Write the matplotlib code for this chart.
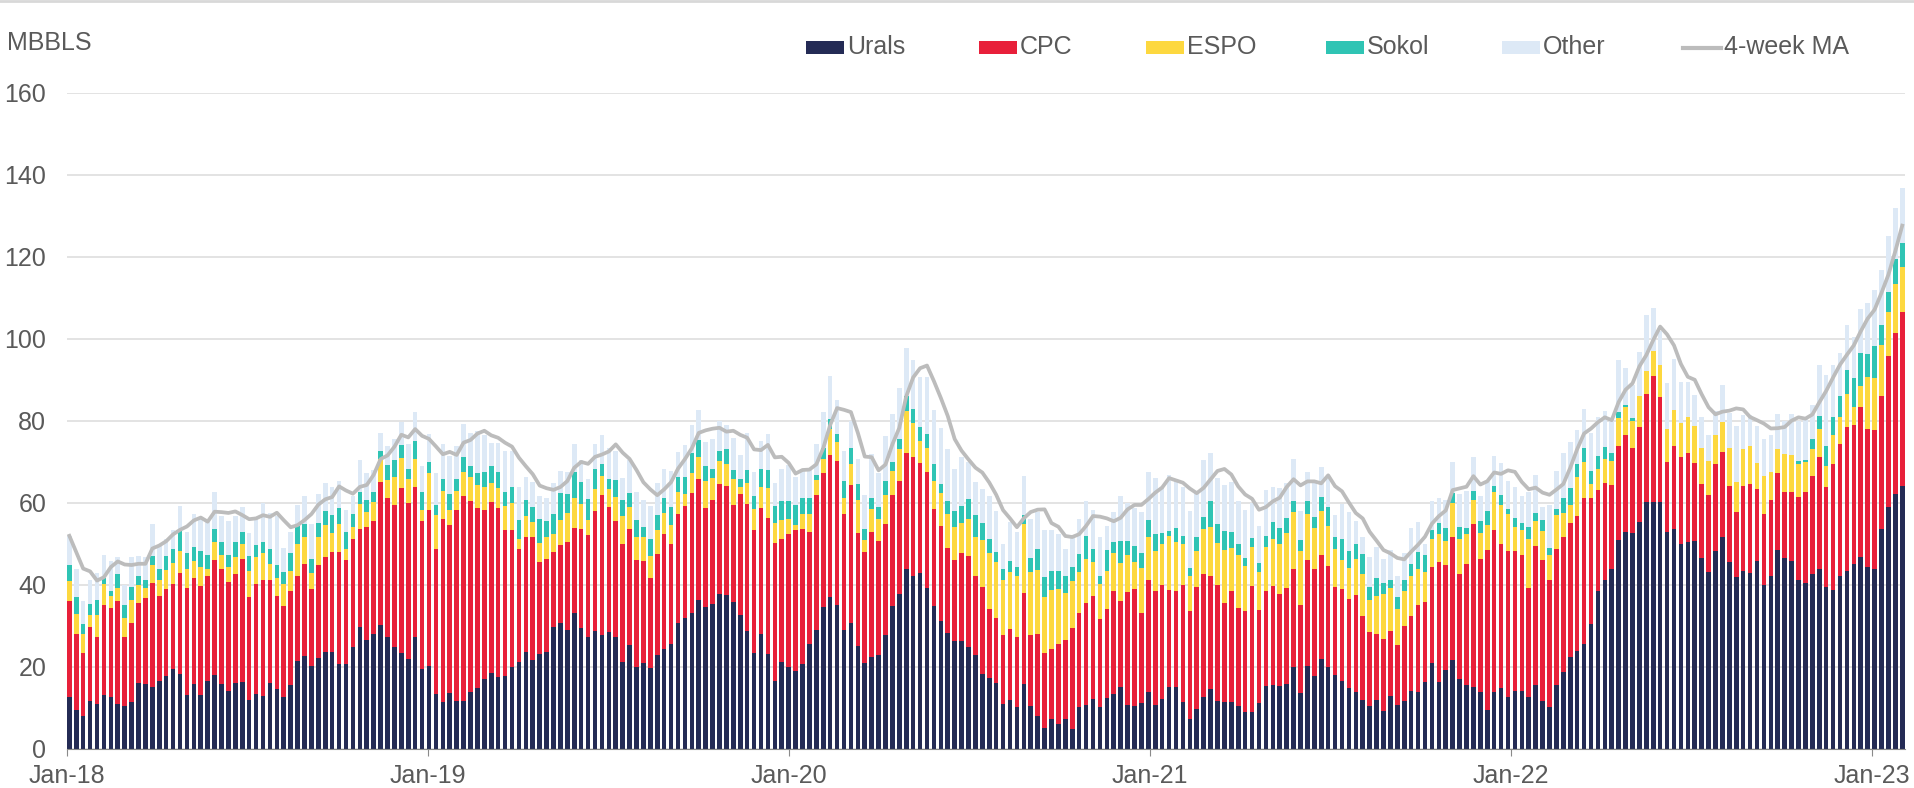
import numpy as np
import pandas as pd
import matplotlib
matplotlib.use("Agg")
import matplotlib.pyplot as plt
from matplotlib.patches import Rectangle
from matplotlib.lines import Line2D

# Weekly stacked levels (top of each colour band), Jan-18 .. Jan-23
urals = [12.8, 9.5, 8, 11.8, 11, 13.2, 12.8, 11, 10.4, 11.4, 16.1, 15.8, 15.1, 16.6, 17.8, 19.6, 18.4, 13.2, 15.8, 13.2, 16.7, 18, 15.8, 14.2, 16, 16.3, 12, 13.4, 13, 16.1, 14.7, 12.8, 15.6,
         21.5, 22.7, 20.2, 22.2, 23.7, 23.7, 20.8, 20.8, 24.9, 29.8, 26.5, 28.1, 30.3, 27.2, 24.9, 23.5, 21.9, 27.2, 19.6, 20.3, 13.4, 11.5, 13.7, 11.8, 11.6, 13.9, 15, 17, 18.6, 17.5, 17.7, 20, 21.1,
         23.7, 21.8, 23.2, 23.7, 29.8, 30.7, 29, 33.1, 29.5, 27.2, 28.9, 27.7, 28.6, 27.4, 21.3, 25.3, 19.9, 21, 19.7, 22.9, 24.3, 25.7, 30.7, 31.9, 33.1, 36.4, 34.7, 35.3, 37.8, 37.6, 35.8, 32.8, 28.9, 23.5, 28.1, 23.2,
         16.6, 21.2, 20.1, 19.1, 20.7, 25.5, 29.1, 34.7, 37, 35.2, 29.1, 30.7, 25.1, 20.9, 22.4, 22.9, 27.8, 35, 37.7, 44, 42.3, 42.9, 39.3, 35, 31.1, 28.3, 26.3, 26.3, 24.9, 23, 18.3, 17.3, 16.1, 10.9, 12,
         10.2, 15.9, 10.6, 8, 5.2, 7.3, 6.1, 7.4, 5, 10.2, 10.7, 12.1, 10.3, 12.5, 13.4, 15.1, 10.7, 10.6, 11.1, 14, 10.7, 12.1, 15.1, 15.1, 11.5, 7.3, 9.7, 12.8, 14.6, 11.8, 11.5, 11.5, 10.4,
         9, 9, 11.1, 15.3, 15.6, 15.3, 15.8, 20.1, 13.7, 20.3, 17.8, 21.9, 19.9, 18, 16.6, 14.9, 13.9, 12, 10.4, 12, 9.3, 13, 10.7, 11.8, 14.2, 14, 16.4, 21, 16.4, 19.2, 21.8, 17, 15.6, 15.1,
         13.9, 9.6, 13.8, 14.8, 12.8, 14.2, 14.2, 12.8, 15.5, 11.7, 10.2, 15.5, 18.9, 22.4, 24, 25.5, 30.4, 38.5, 41.3, 43.9, 51, 52.9, 52.7, 55.4, 60.2, 60.2, 60.3, 52.9, 53.7, 50, 50.5, 50.8, 46.7, 43.1, 48.3, 51.6, 45.7,
         41.9, 43.4, 42.9, 45.9, 39.9, 42.3, 48.6, 46.7, 45.9, 41.1, 40.4, 42.6, 43.9, 39.6, 38.8, 42.1, 43.4, 45.2, 46.9, 44.5, 43.9, 53.7, 59, 62.3, 64.1]

cpc_top = [36, 28, 23.5, 29.8, 27.2, 35.2, 34.5, 36.1, 27.2, 30.7, 35.7, 36.9, 40.4, 37.4, 39, 40.2, 43, 39.3, 41.6, 39.7, 42.1, 46.2, 44, 40.7, 42.6, 46.4, 37.1, 40.2, 41.3, 41.2, 37.4, 34.8, 38.6,
           42.3, 45.1, 39, 44.9, 46.8, 48, 48.1, 46.1, 51.1, 53.7, 54.2, 55.6, 65, 61.2, 59.6, 63.6, 60.1, 63.9, 55.6, 58.2, 48.7, 56, 54.6, 58.4, 61.7, 60.5, 58.9, 58.4, 60.3, 58.7, 53.5, 53.5, 48.7,
           51.6, 51.7, 45.6, 46.4, 48, 49.7, 50.6, 53.9, 53.6, 52.2, 58, 62, 59.1, 55.5, 50.1, 53.6, 46.1, 45.9, 41.8, 47.5, 52.5, 49.9, 57.2, 59.3, 62.4, 65.9, 58.9, 60.8, 64.6, 64.1, 59.6, 62.2, 59.8, 53.3, 58.9, 56.3,
           50.3, 51.3, 52.4, 53.4, 53.6, 52.9, 61.9, 67.2, 71.8, 70.2, 57.3, 64.3, 52.7, 48.1, 52.9, 50.8, 54.9, 61.9, 65.3, 72.3, 71.3, 69.7, 67.5, 58.5, 54.4, 49.1, 46.2, 47.8, 47, 42.1, 39.6, 34.2, 31.9, 27.8, 29.3,
           27.4, 38.1, 27.9, 28.1, 23.4, 24.3, 25.5, 26.5, 29.5, 33.1, 35.5, 37.4, 31.7, 34.1, 38.5, 36, 38.3, 39.1, 33.1, 41.2, 38.5, 40, 38.7, 38.6, 39.9, 33.6, 39.5, 42.8, 42.1, 39.9, 35.5, 38.6, 34.5,
           33.6, 39.7, 33.8, 38.6, 39.7, 37.7, 39.3, 44, 35.2, 46.1, 43.8, 47.3, 44.7, 39.5, 39.1, 36.7, 37.6, 32.4, 28.6, 28.1, 26.8, 28.7, 25.3, 30, 32.4, 35.2, 35.8, 44.3, 45.6, 44.9, 51.8, 42.6, 45.1, 54.9,
           46.4, 48.5, 53.4, 50.1, 48.3, 48.3, 47.4, 39.3, 49.5, 46.2, 41.3, 48.8, 51.8, 55.1, 56.9, 61.2, 61.2, 63.1, 64.9, 64.3, 73.8, 76.6, 73.3, 78.6, 86.6, 90.9, 85.8, 70, 73.9, 71.3, 72.1, 69.7, 64.6, 61.9, 69.4, 72.5, 64.1,
           57.7, 64.1, 64.6, 63.4, 57.3, 60.8, 67.2, 62.8, 62.6, 61.5, 62.6, 66.7, 71.3, 63.8, 69.4, 74.3, 78.6, 79.1, 83.5, 78.1, 77.8, 86.1, 95.8, 101.4, 106.7]

espo_top = [41, 33, 28, 32.6, 32.6, 40.2, 37.4, 39.3, 31.9, 36.4, 39.9, 39.3, 44.9, 41.3, 43.7, 45.4, 48.2, 44, 45.9, 44.5, 44, 50.6, 47.3, 44.5, 46.8, 50, 43.3, 46.8, 47.7, 45.1, 41.8, 40.2, 43.5,
            49.9, 51.6, 43, 51.7, 54.6, 52.7, 54.9, 48.7, 54.1, 59.8, 57.7, 60.2, 70.8, 65.5, 66.4, 71, 65.8, 70.8, 58.4, 67.4, 57, 62.9, 58.2, 62.9, 67.5, 66.4, 64.3, 63.8, 64.8, 63.7, 59.3, 60.1, 51.3,
            56.8, 55.3, 50.3, 51.6, 52.5, 55.8, 57.5, 61.3, 59.8, 55.8, 63.4, 66.7, 63.4, 61.5, 56.8, 59.1, 51.7, 51.6, 47.1, 53.5, 57.5, 54.6, 62.7, 62.2, 67.2, 71.2, 65.3, 66.2, 70.3, 69.5, 65.9, 63.8, 64.8, 58.5, 64, 63.7,
            55.1, 55.9, 56.1, 54.7, 57.3, 57.2, 65.6, 70.8, 78.1, 74.8, 61.3, 69.4, 60.8, 51, 58.5, 56.1, 61.9, 67.7, 73.1, 82.5, 79.4, 75.2, 73.5, 65.3, 62.4, 57.2, 54.1, 55.1, 56.1, 51.6, 51, 47.8, 45.7, 41.3, 43.2,
            42.1, 54.9, 43.2, 43.7, 37.1, 38.8, 39.1, 38, 41, 43.2, 46.4, 45.6, 40.2, 43.5, 47.8, 45.4, 47.3, 45.6, 44.2, 51.7, 48.2, 49.9, 52, 50.4, 50, 42.1, 48.2, 53.6, 54.1, 50.3, 48.5, 49, 47.3,
            44.7, 49.2, 43.2, 49.2, 51.3, 50.1, 52.7, 57.7, 48.2, 57.4, 53.9, 58, 54.4, 48.9, 46.1, 44.2, 46.4, 42.8, 36.4, 37.4, 37.8, 39.3, 34.2, 38.5, 42.3, 43.8, 43.2, 51.1, 52.5, 50.8, 60.1, 51.3, 52.5, 60.8,
            52.7, 54.7, 62.6, 59.5, 57.2, 54.2, 53.4, 51.3, 55.6, 53.2, 47.2, 57, 57.5, 59.5, 66.3, 70, 64.6, 68.2, 70.8, 70.2, 80.7, 83.3, 80, 86.1, 92.2, 97, 93.6, 78.1, 82.8, 79.4, 81, 78.8, 73.3, 70.2, 76.7, 79.7, 73.5,
            65, 73.1, 73.8, 69.7, 66.7, 67.5, 73.1, 71.9, 71.8, 69.4, 70, 73.1, 78, 69, 76.6, 80.9, 86.6, 83.3, 88.6, 90.8, 90.6, 98.6, 106.5, 113.5, 117.5]

sokol_top = [45, 37, 30.5, 35.3, 36.4, 41.6, 38.6, 42.8, 35.2, 39.5, 42.3, 41.3, 47, 44, 47, 48.9, 53.5, 47.8, 49.2, 48.2, 47.3, 53.6, 50.4, 47.3, 50.4, 53, 47, 49.7, 50.6, 48.7, 44.9, 43.2, 47.8,
             54.4, 54.9, 46.4, 55.1, 58, 57, 58.9, 53, 57.2, 62.7, 60.8, 62.8, 72.6, 69.3, 70.5, 74.1, 68.4, 75, 62.7, 70, 59.6, 65.8, 62.3, 65.8, 71.1, 69.1, 67.2, 67.5, 69.1, 67.6, 62.7, 63.9, 55.8,
             60.8, 59.1, 56, 55.5, 57.2, 62.4, 62.2, 67.5, 65.1, 61, 68.4, 69.5, 65.9, 65.6, 60.7, 62.4, 55.8, 54.1, 51.3, 57, 61.3, 59.1, 66.4, 66.4, 72.1, 75.4, 69.1, 68.4, 72.8, 73.1, 68.1, 65.9, 68.1, 61.7, 68.4, 68,
             59.2, 60.5, 60.5, 59.5, 61.2, 61.2, 66.9, 73.5, 80.5, 76.9, 65.4, 73.3, 64.6, 53.7, 61.2, 59, 65.3, 70, 75.6, 86.1, 83, 78.6, 76.9, 69.4, 64.6, 60.5, 58, 59.2, 61, 57, 55.2, 51.1, 48, 43.9, 45.9,
             44.3, 57, 46.6, 48.7, 41.9, 43.3, 43.3, 42.3, 44.5, 47.6, 52, 48.9, 42.1, 48.5, 50.6, 50.8, 50.8, 49.4, 47.8, 55.8, 52.5, 52.7, 53.2, 53.8, 52, 44.2, 51.7, 56.5, 60.5, 54.9, 53.2, 53, 49.9,
             46.6, 51.4, 45.4, 52, 55.3, 53.9, 56.3, 60.4, 50.9, 60.4, 56.5, 61.5, 59.1, 51.6, 51.1, 48.4, 50.1, 47.5, 39.5, 41.6, 40.6, 41.3, 37.1, 41.2, 45.1, 48, 47.3, 53.3, 55.2, 53.9, 62.4, 54.1, 53.9, 62.9,
             55.5, 58, 64.1, 61.9, 58.5, 56.4, 55.2, 54.2, 57.5, 55.9, 49, 58.5, 61.2, 63.6, 69.6, 73.3, 67.7, 71.5, 73.6, 72.1, 82.3, 83.8, 80.7, 86.1, 92.2, 97, 93.6, 78.1, 82.8, 79.4, 81, 78.8, 73.3, 70.2, 76.7, 79.7, 73.5,
             65, 73.1, 73.8, 69.7, 66.7, 67.5, 73.1, 71.9, 71.8, 70.2, 70.5, 75.6, 81.3, 73.8, 81, 86.1, 92.4, 90.6, 96.6, 96.3, 98.3, 103.5, 111.5, 119.5, 123.5]

other_top = [52, 44, 36, 41.3, 43, 47.3, 45.9, 46.8, 40, 46.8, 47.1, 46.8, 54.9, 49.7, 51.3, 53.5, 59.3, 53, 57.2, 56.3, 55.3, 62.7, 56.8, 55.5, 56.8, 59.1, 52.8, 56.3, 59.9, 57.5, 56.8, 49, 53,
             59.6, 61.7, 54.9, 62.2, 64.8, 63.9, 65.3, 58.2, 61.7, 70.5, 67.2, 68.1, 77.1, 74, 75.7, 79.8, 74.5, 82.1, 69.1, 76.8, 67.2, 74.5, 71.4, 73.8, 79.2, 77.1, 77.6, 76.6, 74.7, 74.7, 72.8, 72.8, 63.9,
             66.4, 65, 61.7, 61.3, 64.8, 67.8, 67.5, 74.3, 70.5, 65.9, 74.3, 76.6, 73.5, 72.8, 66.2, 70.5, 62.7, 60.8, 59.3, 64.8, 68.4, 67.8, 72.5, 74.1, 79, 82.8, 75, 75.7, 79.9, 79, 75.9, 71.7, 77.1, 67.6, 75.2, 76.8,
             64.9, 68.2, 69.2, 66.4, 68.4, 68.6, 74.3, 82.2, 91, 85.1, 72.6, 80, 70.8, 61.9, 72, 67.2, 76.4, 81.7, 88.1, 97.9, 94.8, 90.7, 90.7, 82.7, 78.4, 73.1, 68.2, 71.3, 69.9, 65.1, 63.4, 61.6, 58, 50, 55.4,
             53, 66.7, 56.1, 57.7, 53.3, 53.3, 52.5, 48.7, 52.3, 56.1, 60.5, 58.4, 51.7, 54.4, 57.7, 61.8, 59.9, 58.7, 57.7, 67.5, 66.2, 63.7, 66.9, 65.3, 63.9, 58, 62.4, 70.5, 72.2, 66.2, 64.3, 65.1, 60.5,
             58.4, 60.1, 54.4, 63.1, 64, 63.7, 64.8, 70.7, 58, 67.6, 64.8, 68.8, 65.8, 57, 59.8, 57.9, 55.5, 51.7, 46.8, 49.2, 46.4, 48.5, 42.3, 47.8, 53.9, 55.3, 50.1, 60.5, 61.3, 60.8, 70, 62.2, 62.9, 71.1,
             61.8, 65.4, 71.5, 69.7, 65.3, 63.9, 61.6, 62.6, 66.9, 59, 59.5, 67.7, 72.3, 74.8, 77.7, 83, 77.1, 81, 82.5, 80.2, 94.8, 93, 88.7, 96.8, 105.8, 107.6, 101.9, 89.2, 95.1, 89.4, 89.4, 86.3, 81, 76.7, 82.5, 88.9, 82,
             78.9, 81.5, 81.5, 78.9, 75.6, 76.7, 81.8, 80, 81.8, 80, 80.5, 84, 93.6, 91.2, 93.6, 96.5, 103.3, 100.4, 107.3, 108.9, 112, 116.8, 125, 131.9, 136.9]

year_labels = ["Jan-18", "Jan-19", "Jan-20", "Jan-21", "Jan-22", "Jan-23"]

names = ["Urals", "CPC", "ESPO", "Sokol", "Other"]
colors = ["#242b55", "#e8203a", "#fdd83f", "#2fc4b4", "#dde9f6"]
ma_color = "#bcbcbc"
text_color = "#5a5a5a"

levels = [np.array(v, dtype=float) for v in (urals, cpc_top, espo_top, sokol_top, other_top)]
n = len(urals)
assert all(len(v) == n for v in levels), [len(v) for v in levels]

total = pd.Series(levels[-1])
ma4 = total.rolling(4, min_periods=1).mean()

plt.rcParams["font.family"] = ["Liberation Sans", "DejaVu Sans"]

W, H = 1915, 788
fig = plt.figure(figsize=(W / 100, H / 100), dpi=100)
ax = fig.add_axes([67 / W, (H - 749) / H, (1905 - 67) / W, (749 - 93) / H])

x = np.arange(n)
bottom = np.zeros(n)
for lev, c in zip(levels, colors):
    ax.bar(x, lev - bottom, bottom=bottom, width=0.66, color=c, linewidth=0, zorder=2)
    bottom = lev
ax.plot(x, ma4, color=ma_color, lw=2.7, zorder=3, solid_joinstyle="round")

ax.set_xlim(-0.34, 265.4)
ax.set_ylim(0, 160)
ax.set_yticks(range(0, 161, 20))
ax.yaxis.grid(True, color="#dedede", lw=1.2, zorder=0)
ax.set_axisbelow(True)
ticks = [k * 52.18 - 0.34 for k in range(6)]
ax.set_xticks(ticks)
ax.set_xticklabels(year_labels)
for s in ["top", "right", "left"]:
    ax.spines[s].set_visible(False)
ax.spines["bottom"].set_color("#8a8a8a")
ax.tick_params(axis="y", length=0, pad=15, labelsize=18, labelcolor=text_color)
ax.tick_params(axis="x", length=5, color="#8a8a8a", pad=6, labelsize=18, labelcolor=text_color)

fig.text(7 / W, 1 - 50 / H, "MBBLS", fontsize=18, color=text_color, ha="left", va="baseline")

# legend drawn by hand so the item spacing matches
leg_x = [806, 979, 1146, 1326, 1502, 1683]
for i, lx in enumerate(leg_x):
    if i < 5:
        fig.patches.append(Rectangle((lx / W, 1 - 54 / H), 38 / W, 13 / H, transform=fig.transFigure,
                                     facecolor=colors[i], edgecolor="none"))
        label = names[i]
    else:
        fig.lines.append(Line2D([lx / W, (lx + 38) / W], [1 - 47.5 / H] * 2, transform=fig.transFigure,
                                color=ma_color, lw=3))
        label = "4-week MA"
    fig.text((lx + 41) / W, 1 - 54 / H, label, fontsize=18, color=text_color, ha="left", va="baseline")

fig.lines.append(Line2D([0, 1], [1 - 1 / H] * 2, transform=fig.transFigure, color="#d8d8d8", lw=2))

fig.savefig("out.png", dpi=100)
